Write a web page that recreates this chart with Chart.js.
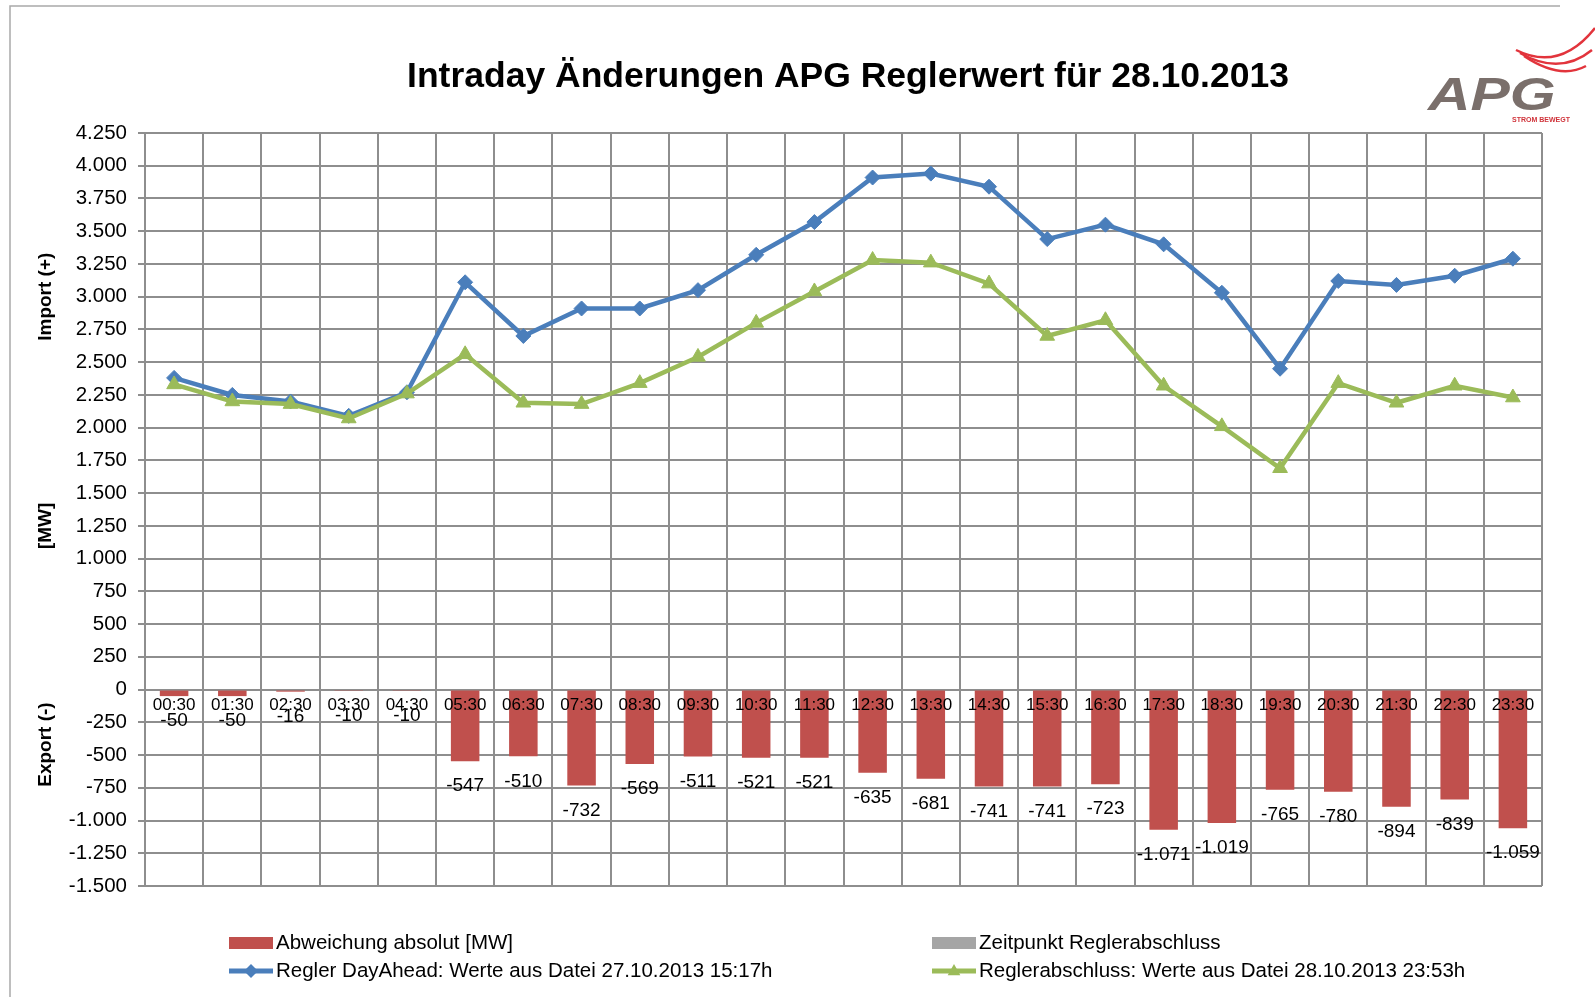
<!DOCTYPE html>
<html lang="de">
<head>
<meta charset="UTF-8">
<title>Intraday Änderungen APG Reglerwert für 28.10.2013</title>
<script src="https://cdn.jsdelivr.net/npm/chart.js"></script>
<style>
  body { margin: 0; background: #fff; }
  #wrap { width: 1595px; height: 997px; }
</style>
</head>
<body>
<div id="wrap"><canvas id="chart" width="1595" height="997"></canvas></div>
<script>
// values
const hours = ['00:30', '01:30', '02:30', '03:30', '04:30', '05:30', '06:30', '07:30',
  '08:30', '09:30', '10:30', '11:30', '12:30', '13:30', '14:30', '15:30',
  '16:30', '17:30', '18:30', '19:30', '20:30', '21:30', '22:30', '23:30'];
const dayAhead = [2380, 2250, 2200, 2090, 2270, 3110, 2700, 2910, 2910, 3050, 3320, 3570,
  3910, 3940, 3840, 3440, 3550, 3400, 3030, 2450, 3120, 3090, 3160, 3290];
const abschluss = [2330, 2200, 2180, 2070, 2260, 2560, 2190, 2180, 2340, 2540, 2800, 3040,
  3280, 3260, 3100, 2700, 2820, 2320, 2010, 1690, 2340, 2190, 2320, 2230];
const abweichung = [-50, -50, -16, -10, -10, -547, -510, -732, -569, -511, -521, -521,
  -635, -681, -741, -741, -723, -1071, -1019, -765, -780, -894, -839, -1059];
const zeitpunkt = [];   // legend only, no bars in this picture
const yTicks = { min: -1500, max: 4250, step: 250 };

const FONT = '"Liberation Sans", Arial, sans-serif';
const GRID = '#8e8e8e';

// 4250 -> "4.250"
function fmt(v) {
  const s = String(Math.abs(v)).replace(/\B(?=(\d{3})+(?!\d))/g, '.');
  return (v < 0 ? '-' : '') + s;
}

const decor = {
  id: 'decor',
  beforeDraw(chart) {
    const c = chart.ctx;
    c.save();
    c.strokeStyle = '#a9a9a9';
    c.lineWidth = 1.5;
    c.beginPath();
    c.moveTo(10, 997); c.lineTo(10, 6); c.lineTo(1560, 6);
    c.stroke();
    c.restore();
  },
  afterDraw(chart) {
    const c = chart.ctx;
    const y = chart.scales.y;
    c.save();
    // title
    c.fillStyle = '#000';
    c.font = 'bold 35.5px ' + FONT;
    c.textAlign = 'center';
    c.textBaseline = 'middle';
    c.fillText('Intraday Änderungen APG Reglerwert für 28.10.2013', 848, 77);

    // axis captions
    c.font = 'bold 19px ' + FONT;
    [['Import (+)', 3000], ['[MW]', 1250], ['Export (-)', -420]].forEach(([t, v]) => {
      c.save();
      c.translate(46, y.getPixelForValue(v));
      c.rotate(-Math.PI / 2);
      c.fillText(t, 0, 0);
      c.restore();
    });

    // APG logo
    c.save();
    c.translate(1428, 110);
    c.scale(1.28, 1);
    c.fillStyle = '#7a6f6b';
    c.font = 'italic bold 46px ' + FONT;
    c.textAlign = 'left';
    c.textBaseline = 'alphabetic';
    c.fillText('APG', 0, 0);
    c.restore();
    c.strokeStyle = '#e2343c';
    c.lineWidth = 2.5;
    [[1595, 28], [1592, 50], [1586, 66]].forEach(([ex, ey], i) => {
      c.beginPath();
      c.moveTo(1516 + i * 4, 50 + i * 3);
      c.quadraticCurveTo(1560, 72 + i * 4, ex, ey);
      c.stroke();
    });
    c.fillStyle = '#d0333a';
    c.font = 'bold 7px ' + FONT;
    c.textAlign = 'left';
    c.fillText('STROM BEWEGT', 1512, 120);
    c.restore();
  }
};

const barLabels = {
  id: 'barLabels',
  afterDatasetsDraw(chart) {
    const c = chart.ctx;
    const meta = chart.getDatasetMeta(0);
    c.save();
    c.font = '19px ' + FONT;
    c.fillStyle = '#000';
    c.textAlign = 'center';
    c.textBaseline = 'middle';
    meta.data.forEach((bar, i) => {
      c.fillText(fmt(abweichung[i]), bar.x, bar.y + 25);
    });
    c.restore();
  }
};

function marker(c, style, x, y, r) {
  c.beginPath();
  if (style === 'rectRot') {
    c.moveTo(x, y - r); c.lineTo(x + r, y); c.lineTo(x, y + r); c.lineTo(x - r, y);
  } else {
    c.moveTo(x, y - r); c.lineTo(x + r * 0.9, y + r * 0.6); c.lineTo(x - r * 0.9, y + r * 0.6);
  }
  c.closePath();
  c.fill();
}

const legendGrid = {
  id: 'legendGrid',
  afterDraw(chart) {
    const c = chart.ctx;
    const cols = [229, 932];
    const rows = [943, 971];
    c.save();
    c.font = '20.5px ' + FONT;
    c.textBaseline = 'middle';
    c.textAlign = 'left';
    chart.data.datasets.forEach((ds, i) => {
      const x = cols[i % 2];
      const y = rows[Math.floor(i / 2)];
      c.fillStyle = ds.backgroundColor;
      if (ds.type === 'bar') {
        c.fillRect(x, y - 6, 44, 12);
      } else {
        c.strokeStyle = ds.borderColor;
        c.lineWidth = 5;
        c.beginPath(); c.moveTo(x, y); c.lineTo(x + 44, y); c.stroke();
        marker(c, ds.pointStyle, x + 22, y, 7);
      }
      c.fillStyle = '#000';
      c.fillText(ds.label, x + 47, y);
    });
    c.restore();
  }
};

new Chart(document.getElementById('chart'), {
  type: 'bar',
  data: {
    labels: hours,
    datasets: [
      { type: 'bar', label: 'Abweichung absolut [MW]', data: abweichung,
        backgroundColor: '#C0504D', order: 3 },
      { type: 'bar', label: 'Zeitpunkt Reglerabschluss', data: zeitpunkt,
        backgroundColor: '#A5A5A5', order: 4 },
      { type: 'line', label: 'Regler DayAhead: Werte aus Datei 27.10.2013 15:17h', data: dayAhead,
        borderColor: '#4A7EBB', backgroundColor: '#4A7EBB', borderWidth: 4.5,
        pointStyle: 'rectRot', pointRadius: 7.5, pointBorderWidth: 1, tension: 0, order: 1 },
      { type: 'line', label: 'Reglerabschluss: Werte aus Datei 28.10.2013 23:53h', data: abschluss,
        borderColor: '#9BBB59', backgroundColor: '#9BBB59', borderWidth: 4.5,
        pointStyle: 'triangle', pointRadius: 8.5, pointBorderWidth: 1, tension: 0, order: 0 }
    ]
  },
  options: {
    responsive: false,
    animation: false,
    devicePixelRatio: 1,
    layout: { padding: { top: 133, right: 53, bottom: 111, left: 0 } },
    datasets: { bar: { grouped: false, barPercentage: 0.49, categoryPercentage: 1 } },
    plugins: {
      legend: { display: false },
      title: { display: false },
      tooltip: { enabled: false }
    },
    scales: {
      y: {
        min: yTicks.min, max: yTicks.max,
        ticks: { stepSize: yTicks.step, callback: v => fmt(v), color: '#000',
          font: { family: FONT, size: 20.5 }, padding: 11 },
        grid: { color: GRID, lineWidth: 2, tickLength: 7 },
        border: { display: false },
        afterFit(s) { s.width = 145; }
      },
      x: {
        position: { y: 0 },
        ticks: { color: '#000', font: { family: FONT, size: 17 }, padding: 6,
          maxRotation: 0, autoSkip: false, z: 1 },
        grid: { color: GRID, lineWidth: 2, drawTicks: false, offset: true },
        border: { display: false }
      }
    }
  },
  plugins: [decor, barLabels, legendGrid]
});
</script>
</body>
</html>
